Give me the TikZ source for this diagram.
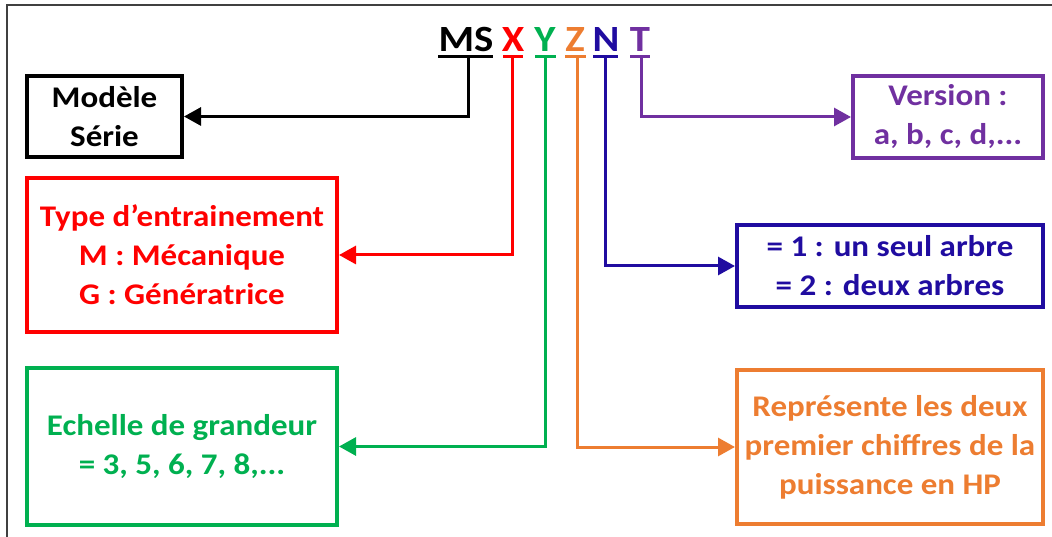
\documentclass[tikz,border=0pt]{standalone}
\usepackage{fontspec}
\setmainfont{Carlito}[FakeStretch=1.1]
\usetikzlibrary{arrows.meta}
\definecolor{cred}{RGB}{255,0,0}
\definecolor{cgreen}{RGB}{0,176,80}
\definecolor{corange}{RGB}{237,125,49}
\definecolor{cblue}{RGB}{32,12,160}
\definecolor{cpurple}{RGB}{112,48,160}
\definecolor{cframe}{RGB}{64,64,64}
\begin{document}
\begin{tikzpicture}[x=1pt,y=-1pt,
  box/.style={draw,line width=4pt,align=center,inner sep=0pt,font=\fontsize{30}{39}\selectfont\bfseries},
  conn/.style={line width=3pt,-{Triangle[length=17pt,width=18pt]}},
  letter/.style={anchor=base,font=\fontsize{37}{40}\selectfont\bfseries,inner sep=0pt},
  uline/.style={line width=3pt}
]
\useasboundingbox (0,0) rectangle (1052,537);
\draw[cframe,line width=2pt] (7,537) -- (7,5) -- (1052,5);

% boxes
\node[box,minimum width=155pt,minimum height=81pt] (modele) at (104.5,116.5) {Modèle\\Série};
\node[box,color=cred,minimum width=310pt,minimum height=154pt] (type) at (182,255) {Type d’entrainement\\M : Mécanique\\G : Génératrice};
\node[box,color=cgreen,minimum width=310pt,minimum height=157pt] (echelle) at (182,446.5) {Echelle de grandeur\\= 3, 5, 6, 7, 8,...};
\node[box,color=cpurple,minimum width=190pt,minimum height=82pt] (version) at (948,117) {Version :\\a, b, c, d,...};
\node[box,color=cblue,minimum width=306pt,minimum height=82pt] (arbre) at (890,266) {= 1 : un seul arbre\\= 2 : deux arbres};
\node[box,color=corange,minimum width=306pt,minimum height=154pt] (puiss) at (890,447) {Représente les deux\\premier chiffres de la\\puissance en HP};

% title letters
\node[letter] (MS) at (466,52) {MS};
\node[letter,text=cred] (X) at (513,52) {X};
\node[letter,text=cgreen] (Y) at (545,52) {Y};
\node[letter,text=corange] (Z) at (575,52) {Z};
\node[letter,text=cblue] (N) at (606,52) {N};
\node[letter,text=cpurple] (T) at (640,52) {T};

% underlines
\draw[uline] (438,57) -- (493,57);
\draw[uline,cred] (503,57) -- (523,57);
\draw[uline,cgreen] (535,57) -- (556,57);
\draw[uline,corange] (565,57) -- (586,57);
\draw[uline,cblue] (593,57) -- (618,57);
\draw[uline,cpurple] (630,57) -- (650,57);

\coordinate (tMS) at (468,57);
\coordinate (tX) at (512,57);
\coordinate (tY) at (545,57);
\coordinate (tZ) at (577,57);
\coordinate (tN) at (605,57);
\coordinate (tT) at (641,57);

% connectors
\draw[conn] (tMS) |- (modele.east);
\draw[conn,cred] (tX) |- (type.east);
\draw[conn,cgreen] (tY) |- (echelle.east);
\draw[conn,corange] (tZ) |- (puiss.west);
\draw[conn,cblue] (tN) |- (arbre.west);
\draw[conn,cpurple] (tT) |- (version.west);
\end{tikzpicture}
\end{document}
